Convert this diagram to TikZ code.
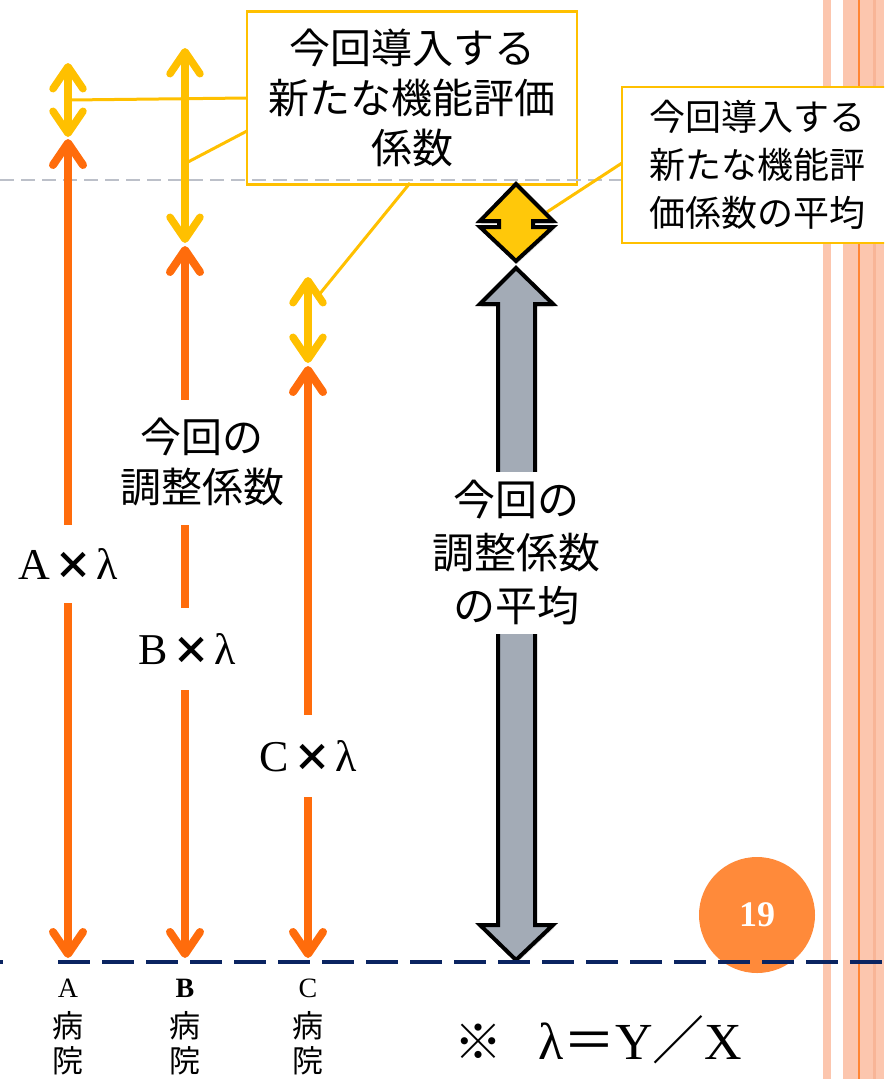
\documentclass[tikz,border=0pt]{standalone}
\usepackage{fontspec}
\setmainfont{Liberation Serif}
\newfontfamily\jp{Noto Sans CJK JP}
\usetikzlibrary{arrows.meta,shadows}
\definecolor{ylw}{HTML}{FFC000}
\definecolor{org}{HTML}{FF6C0C}
\definecolor{pinkst}{HTML}{FCC6AE}
\definecolor{pinkdk}{HTML}{F8B597}
\definecolor{orgline}{HTML}{FF8534}
\definecolor{circ}{HTML}{FF8A3A}
\definecolor{navy}{HTML}{0A2461}
\definecolor{grayd}{HTML}{BCC0C9}
\definecolor{blockgray}{HTML}{A3ABB6}
\definecolor{dia}{HTML}{FFC80A}
\tikzset{
  barb/.tip={Straight Barb[length=22pt,width=30pt,round]},
  yarrow/.style={draw=ylw, line width=7.5pt, barb-barb},
  oarrow/.style={draw=org, line width=8pt, barb-barb},
  lbl/.style={fill=white, inner xsep=3pt, inner ysep=0pt},
  callout/.style={draw=ylw, line width=3pt},
  cbox/.style={draw=ylw, line width=2.5pt, fill=white, inner sep=0pt, align=center},
  timesx/.style={font=\fontsize{44}{44}\selectfont},
  jplbl/.style={font=\jp\fontsize{41}{50}\selectfont, align=center},
  botlbl/.style={font=\fontsize{28}{28}\selectfont},
  botjp/.style={font=\jp\fontsize{31}{31}\selectfont},
  blockarrow/.style={draw=black, line width=4pt, line join=miter, drop shadow={opacity=0.25, shadow xshift=1pt, shadow yshift=-3pt}},
}
\newcommand{\tx}{{\jp\bfseries\fontsize{38}{38}\selectfont ×}}
\begin{document}
\begin{tikzpicture}[x=1pt,y=-1pt]
\clip (0,0) rectangle (884,1079);
% right stripes
\fill[pinkst] (823,0) rectangle (831,1079);
\fill[pinkst] (843,0) rectangle (884,1079);
\fill[pinkdk] (873,0) rectangle (876,1079);
\fill[orgline] (858,0) rectangle (860,1079);
% box 1
\node[cbox, minimum width=330pt, minimum height=173pt, font=\jp\fontsize{41}{50}\selectfont] (box1) at (412,98) {今回導入する\\新たな機能評価\\係数};
% gray dashed line
\coordinate (g0) at (0,180);
\coordinate (g1) at (622,180);
\draw[grayd, line width=2.5pt, dash pattern=on 14pt off 7pt] (g0) -- (g1);
% callout lines
\coordinate (l1a) at (247,98);  \coordinate (l1b) at (70,100);
\coordinate (l2a) at (247,131); \coordinate (l2b) at (188,162);
\coordinate (l3a) at (410,183); \coordinate (l3b) at (318,296);
\coordinate (l4a) at (622,163); \coordinate (l4b) at (547,212);
\draw[callout] (l1a) -- (l1b);
\draw[callout] (l2a) -- (l2b);
\draw[callout] (l3a) -- (l3b);
\draw[callout] (l4a) -- (l4b);
% yellow arrows
\coordinate (Ayt) at (68,63);  \coordinate (Ayb) at (68,137);
\coordinate (Byt) at (185,48); \coordinate (Byb) at (185,243);
\coordinate (Cyt) at (308,277); \coordinate (Cyb) at (308,363);
\draw[yarrow] (Ayt) -- (Ayb);
\draw[yarrow] (Byt) -- (Byb);
\draw[yarrow] (Cyt) -- (Cyb);
% orange arrows
\coordinate (Aot) at (68,139);  \coordinate (Aob) at (68,958);
\coordinate (Bot) at (185,246); \coordinate (Bob) at (185,958);
\coordinate (Cot) at (308,366); \coordinate (Cob) at (308,958);
\draw[oarrow] (Aot) -- (Aob);
\draw[oarrow] (Bot) -- (Bob);
\draw[oarrow] (Cot) -- (Cob);
% labels on arrows
\node[lbl, timesx, minimum height=78pt] (Alab) at (68,564) {A\hspace{4pt}\tx\hspace{4pt}λ};
\node[lbl, timesx, minimum height=82pt] (Blab) at (187,649) {B\hspace{4pt}\tx\hspace{4pt}λ};
\node[lbl, timesx, minimum height=82pt] (Clab) at (308,756) {C\hspace{4pt}\tx\hspace{4pt}λ};
\node[lbl, jplbl, minimum height=125pt] (adj) at (202,462) {今回の\\調整係数};
% big gray double arrow
\path[blockarrow, fill=blockgray] (516,268) -- (553,304) -- (535,304) -- (535,925) -- (553,925) -- (516,960) -- (480,925) -- (498,925) -- (498,304) -- (480,304) -- cycle;
\node[lbl, font=\jp\fontsize{42}{53}\selectfont, align=center, minimum height=162pt] (avg) at (516,553) {今回の\\調整係数\\の平均};
% diamond (compressed double arrow)
\path[blockarrow, fill=dia] (516,184) -- (553,221) -- (533,221) -- (533,227) -- (553,227) -- (516,261) -- (480,227) -- (499,227) -- (499,221) -- (480,221) -- cycle;
% box 2
\node[cbox, minimum width=270pt, minimum height=156pt, font=\jp\fontsize{36}{48}\selectfont] (box2) at (757,165) {今回導入する\\新たな機能評\\価係数の平均};
% page circle
\node[circle, fill=circ, minimum size=116pt, inner sep=0pt, text=white, font=\bfseries\fontsize{36}{36}\selectfont] (pg) at (757,915) {19};
% navy dashed baseline
\coordinate (n0) at (58,962); \coordinate (n1) at (884,962);
\coordinate (s0) at (0,962); \coordinate (s1) at (3,962);
\draw[navy, line width=4pt] (s0) -- (s1);
\draw[navy, line width=4pt, dash pattern=on 32pt off 12pt] (n0) -- (n1);
% bottom labels
\node[botlbl] (hA) at (68,988) {A};
\node[botjp] (hA1) at (68,1026) {病};
\node[botjp] (hA2) at (68,1061) {院};
\node[botlbl] (hB) at (185,988) {\bfseries B};
\node[botjp] (hB1) at (185,1026) {病};
\node[botjp] (hB2) at (185,1061) {院};
\node[botlbl] (hC) at (308,988) {C};
\node[botjp] (hC1) at (308,1026) {病};
\node[botjp] (hC2) at (308,1061) {院};
% formula
\node[anchor=base, inner sep=0pt, font=\jp\fontsize{48}{48}\selectfont] (kome) at (478,1059) {※};
\node[anchor=base west, inner sep=0pt, font=\fontsize{52}{52}\selectfont] (formula) at (538,1059) {λ{\jp ＝}Y{\jp ／}X};
\end{tikzpicture}
\end{document}
